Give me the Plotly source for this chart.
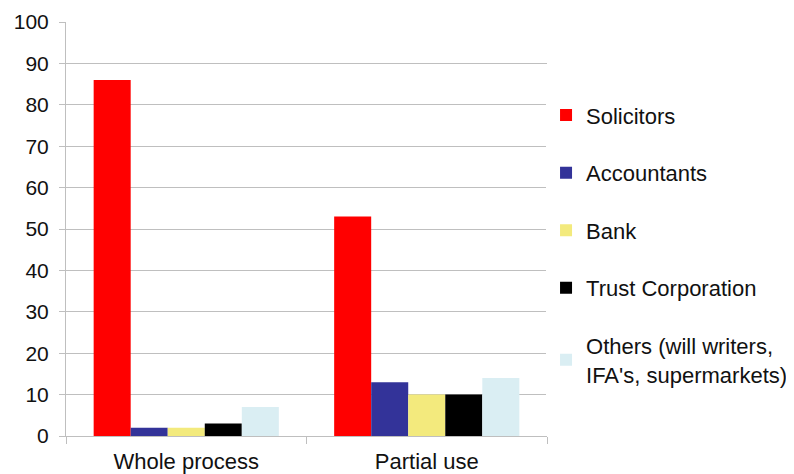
import plotly.graph_objects as go

categories = ["Whole process", "Partial use"]
series_names = ["Solicitors", "Accountants", "Bank", "Trust Corporation",
                "Others (will writers,<br>IFA's, supermarkets)"]
solicitors = [86, 53]
accountants = [2, 13]
bank = [2, 10]
trust = [3, 10]
others = [7, 14]
colors = ["#FF0000", "#333399", "#F3EA7D", "#000000", "#DAEEF3"]
y_ticks = list(range(0, 101, 10))

values = [solicitors, accountants, bank, trust, others]

fig = go.Figure()
for i, (name, vals, col) in enumerate(zip(series_names, values, colors)):
    fig.add_trace(go.Bar(x=categories, y=vals, name=name, marker_color=col,
                         marker_line_width=0, legendgroup=f"g{i}"))

fig.update_layout(
    width=786, height=466,
    margin=dict(l=58, r=247, t=14, b=38, autoexpand=False),
    paper_bgcolor="white", plot_bgcolor="white",
    font=dict(family="Liberation Sans, Arial, sans-serif", size=22, color="#111111"),
    barmode="group", bargap=0.23, bargroupgap=0,
    legend=dict(x=0.998, xanchor="left", y=0.462, yanchor="middle",
                font=dict(size=22), tracegroupgap=26, itemwidth=30),
    showlegend=True,
)
fig.update_yaxes(range=[0, 100], tickvals=y_ticks, showgrid=True, gridcolor="#BFBFBF",
                 gridwidth=1, showline=True, linecolor="#BFBFBF", ticks="outside",
                 ticklen=6, tickcolor="#BFBFBF", zeroline=False, automargin=False,
                 tickfont=dict(size=21), ticklabelstandoff=6)
fig.update_xaxes(showline=True, linecolor="#BFBFBF", ticks="outside", tickson="boundaries",
                 ticklen=7, tickcolor="#BFBFBF", tickfont=dict(size=22), automargin=False,
                 ticklabelstandoff=6)

fig.write_html("out.html")
